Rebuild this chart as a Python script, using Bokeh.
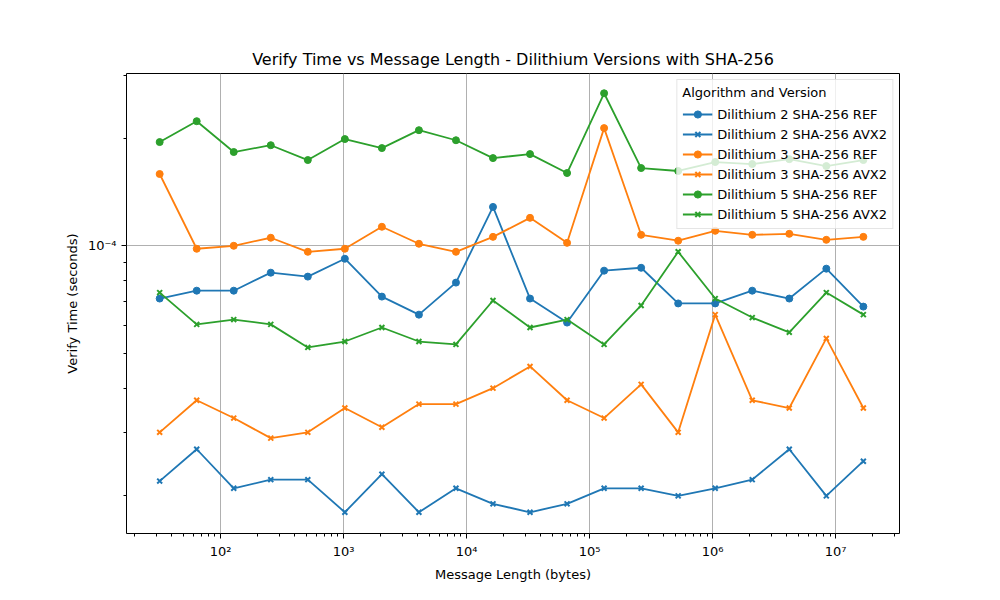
from bokeh.plotting import figure
from bokeh.models import FixedTicker, Legend, LegendItem, Range1d
from bokeh.embed import file_html
from bokeh.resources import INLINE

lengths = [2 ** k for k in range(5, 25)]

d2_ref = [7.12, 7.49, 7.49, 8.41, 8.20, 9.20, 7.21, 6.42, 7.89, 12.84,
          7.12, 6.10, 8.52, 8.68, 6.90, 6.90, 7.49, 7.12, 8.63, 6.76]
d2_avx2 = [2.20, 2.70, 2.10, 2.22, 2.22, 1.80, 2.30, 1.80, 2.10, 1.90,
           1.80, 1.90, 2.10, 2.10, 2.00, 2.10, 2.22, 2.70, 2.00, 2.50]
d3_ref = [15.87, 9.81, 10.0, 10.53, 9.62, 9.81, 11.30, 10.13, 9.62, 10.59,
          11.97, 10.19, 21.32, 10.73, 10.33, 11.01, 10.73, 10.80, 10.39, 10.59]
d3_avx2 = [3.01, 3.70, 3.30, 2.90, 3.01, 3.52, 3.11, 3.61, 3.61, 4.00,
           4.60, 3.70, 3.30, 4.10, 3.01, 6.42, 3.70, 3.52, 5.51, 3.52]
d5_ref = [19.49, 22.29, 18.28, 19.10, 17.36, 19.87, 18.75, 21.04, 19.72, 17.58,
          18.04, 15.97, 26.68, 16.49, 16.18, 17.14, 16.92, 17.46, 16.70, 17.36]
d5_avx2 = [7.40, 6.03, 6.22, 6.03, 5.20, 5.40, 5.91, 5.40, 5.30, 7.03,
           5.91, 6.22, 5.30, 6.81, 9.62, 7.12, 6.30, 5.73, 7.40, 6.42]

series = [
    ("Dilithium 2 SHA-256 REF", d2_ref, "#1f77b4", "circle"),
    ("Dilithium 2 SHA-256 AVX2", d2_avx2, "#1f77b4", "x"),
    ("Dilithium 3 SHA-256 REF", d3_ref, "#ff7f0e", "circle"),
    ("Dilithium 3 SHA-256 AVX2", d3_avx2, "#ff7f0e", "x"),
    ("Dilithium 5 SHA-256 REF", d5_ref, "#2ca02c", "circle"),
    ("Dilithium 5 SHA-256 AVX2", d5_avx2, "#2ca02c", "x"),
]

p = figure(width=984, height=584, x_axis_type="log", y_axis_type="log",
           x_range=Range1d(17.2, 3.3e7), y_range=Range1d(1.57e-5, 3.03e-4),
           title="Verify Time vs Message Length - Dilithium Versions with SHA-256",
           x_axis_label="Message Length (bytes)", y_axis_label="Verify Time (seconds)",
           output_backend="svg", toolbar_location=None,
           min_border_left=126, min_border_right=85, min_border_top=73, min_border_bottom=49)

p.title.align = "center"
p.title.text_font = "DejaVu Sans"
p.title.text_font_size = "16px"
p.title.text_font_style = "normal"
p.title.text_color = "black"

items = []
for name, vals, color, marker in series:
    y = [v * 1e-5 for v in vals]
    r1 = p.line(lengths, y, line_color=color, line_width=1.8)
    if marker == "circle":
        r2 = p.scatter(lengths, y, marker="circle", size=7, color=color)
    else:
        r2 = p.scatter(lengths, y, marker="x", size=7, line_color=color, line_width=2)
    items.append(LegendItem(label=name, renderers=[r1, r2]))

xt = [10 ** k for k in range(2, 8)]
xminor = [m * 10 ** k for k in range(1, 8) for m in range(2, 10)]
p.xaxis.ticker = FixedTicker(ticks=xt, minor_ticks=xminor)
p.xaxis.major_label_overrides = {10 ** k: "10" + "⁰¹²³⁴⁵⁶⁷"[k] for k in range(2, 8)}
yminor = [m * 1e-5 for m in range(2, 10)] + [m * 1e-4 for m in range(2, 4)]
p.yaxis.ticker = FixedTicker(ticks=[1e-4], minor_ticks=yminor)
p.yaxis.major_label_overrides = {1e-4: "10⁻⁴"}

for ax in (p.xaxis[0], p.yaxis[0]):
    ax.axis_label_text_font = "DejaVu Sans"
    ax.axis_label_text_font_size = "13px"
    ax.axis_label_text_font_style = "normal"
    ax.axis_label_text_color = "black"
    ax.major_label_text_font = "DejaVu Sans"
    ax.major_label_text_font_size = "13px"
    ax.major_label_text_color = "black"
    ax.major_tick_out = 5
    ax.major_tick_in = 0
    ax.minor_tick_out = 3
    ax.minor_tick_in = 0
    ax.axis_line_color = None

p.grid.grid_line_color = "#b0b0b0"
p.grid.grid_line_alpha = 1.0
p.outline_line_color = "black"

legend = Legend(items=items, location="top_right", title="Algorithm and Version",
                label_text_font="DejaVu Sans", label_text_font_size="13px",
                label_text_color="black",
                title_text_font="DejaVu Sans", title_text_font_size="13px",
                title_text_font_style="normal", title_text_color="black",
                spacing=2, padding=5, margin=6,
                label_height=18, glyph_height=18, glyph_width=30,
                border_line_color="#cccccc", background_fill_alpha=0.8)
p.add_layout(legend)

open("out.html", "w").write(file_html(p, INLINE))
